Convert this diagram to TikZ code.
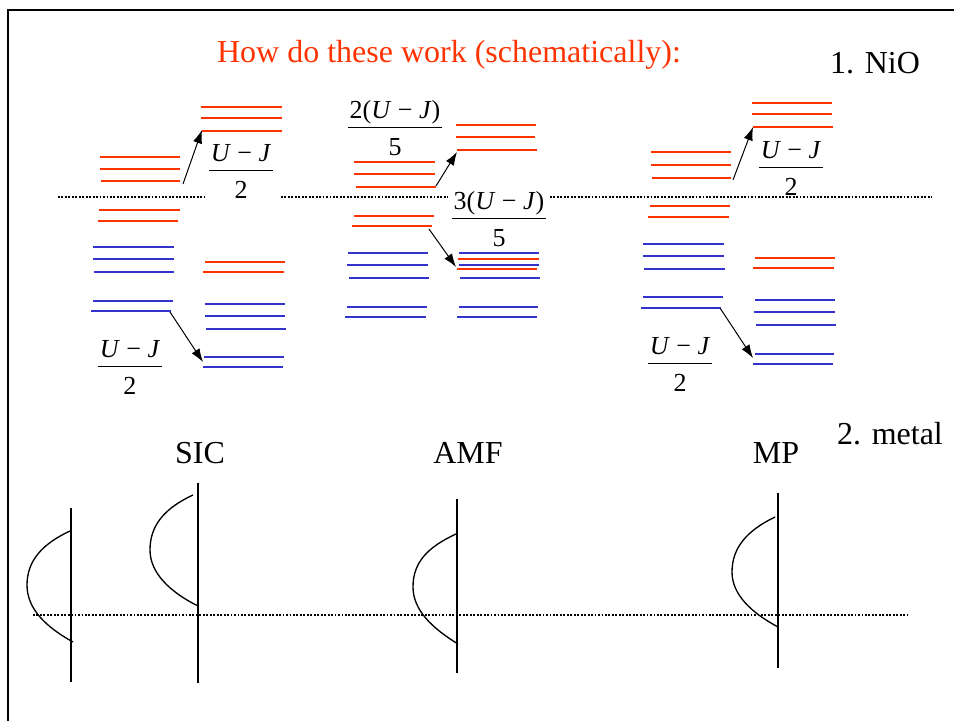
\documentclass[tikz,border=0pt]{standalone}
\usepackage{fontspec}
\setmainfont{Liberation Serif}
\usetikzlibrary{arrows.meta}
\definecolor{lvred}{RGB}{255,51,0}
\definecolor{lvblue}{RGB}{51,51,204}
\setlength{\arrayrulewidth}{0.7pt}
\newcommand{\ujfrac}[2]{\begin{tabular}{@{\hspace{1pt}}c@{\hspace{1pt}}}#1\\\hline\rule{0pt}{20pt}#2\end{tabular}}
\tikzset{
  redlv/.style={draw=lvred, line width=1.3pt},
  bluelv/.style={draw=lvblue, line width=1.3pt},
  fermi/.style={line width=1.5pt, dash pattern=on 1.4pt off 1.2pt},
  shift arrow/.style={-{Latex[length=10pt,width=7pt]}, line width=0.75pt},
  dos/.style={line width=1pt},
  bigtxt/.style={font=\fontsize{24}{28}\selectfont},
  fractxt/.style={font=\fontsize{19.5}{22}\selectfont, inner sep=0pt},
}
\begin{document}
\begin{tikzpicture}[x=0.75pt, y=-0.75pt]
\useasboundingbox (0,0) rectangle (954,721);
\draw[line width=1.9pt] (8,721) -- (8,10) -- (954,10);
% --- headings ---
\node[bigtxt, text=lvred, anchor=base] (title) at (449,62) {How do these work (schematically):};
\node[bigtxt, anchor=base] (nio) at (875,73) {1. NiO};
\node[bigtxt, anchor=base] (metal) at (890,444) {2. metal};
% --- Fermi level (NiO) ---
\draw[fermi] (58,197) -- (207,197);
\draw[fermi] (281,197) -- (448,197);
\draw[fermi] (550,197) -- (932,197);
% --- SIC levels ---
\draw[redlv] (100,157) -- (180,157);
\draw[redlv] (100,169) -- (180,169);
\draw[redlv] (101,181) -- (180,181);
\draw[redlv] (99,210) -- (180,210);
\draw[redlv] (98,221) -- (178,221);
\draw[bluelv] (93,247) -- (174,247);
\draw[bluelv] (93,259) -- (174,259);
\draw[bluelv] (94,272) -- (174,272);
\draw[bluelv] (93,301) -- (173,301);
\draw[bluelv] (91,311) -- (171,311);
\draw[redlv] (201,107) -- (282,107);
\draw[redlv] (201,118) -- (282,118);
\draw[redlv] (202,131) -- (282,131);
\draw[redlv] (205,262) -- (285,262);
\draw[redlv] (203,272) -- (284,272);
\draw[bluelv] (205,304) -- (285,304);
\draw[bluelv] (205,316) -- (285,316);
\draw[bluelv] (206,329) -- (286,329);
\draw[bluelv] (204,357) -- (284,357);
\draw[bluelv] (203,367) -- (283,367);
\coordinate (sicUpA) at (183,184);
\coordinate (sicUpB) at (202,130);
\coordinate (sicDnA) at (170,312);
\coordinate (sicDnB) at (203,362);
\draw[shift arrow] (sicUpA) -- (sicUpB);
\draw[shift arrow] (sicDnA) -- (sicDnB);
\node[fractxt] (sicUp) at (241,174) {\ujfrac{\textit{U} − \textit{J}}{2}};
\node[fractxt] (sicDn) at (130,370) {\ujfrac{\textit{U} − \textit{J}}{2}};
% --- AMF levels ---
\draw[redlv] (354,162) -- (435,162);
\draw[redlv] (354,174) -- (435,174);
\draw[redlv] (356,187) -- (436,187);
\draw[redlv] (354,216) -- (434,216);
\draw[redlv] (352,226) -- (432,226);
\draw[bluelv] (348,253) -- (428,253);
\draw[bluelv] (347,265) -- (428,265);
\draw[bluelv] (349,278) -- (429,278);
\draw[bluelv] (347,307) -- (427,307);
\draw[bluelv] (345,317) -- (426,317);
\draw[redlv] (456,125) -- (536,125);
\draw[redlv] (456,137) -- (535,137);
\draw[redlv] (457,150) -- (537,150);
\draw[bluelv] (459,253) -- (539,253);
\draw[redlv] (458,259) -- (539,259);
\draw[bluelv] (459,265) -- (539,265);
\draw[redlv] (457,269) -- (537,269);
\draw[bluelv] (460,278) -- (540,278);
\draw[bluelv] (459,307) -- (538,307);
\draw[bluelv] (457,317) -- (537,317);
\coordinate (amfUpA) at (436,186);
\coordinate (amfUpB) at (457,152);
\coordinate (amfDnA) at (429,229);
\coordinate (amfDnB) at (456,267);
\draw[shift arrow] (amfUpA) -- (amfUpB);
\draw[shift arrow] (amfDnA) -- (amfDnB);
\node[fractxt] (amfUp) at (395,131) {\ujfrac{2(\textit{U} − \textit{J}\/)}{5}};
\node[fractxt] (amfDn) at (499,222) {\ujfrac{3(\textit{U} − \textit{J}\/)}{5}};
% --- MP levels ---
\draw[redlv] (651,152) -- (731,152);
\draw[redlv] (651,165) -- (731,165);
\draw[redlv] (652,178) -- (731,178);
\draw[redlv] (650,206) -- (730,206);
\draw[redlv] (648,217) -- (729,217);
\draw[bluelv] (643,244) -- (724,244);
\draw[bluelv] (643,256) -- (724,256);
\draw[bluelv] (644,269) -- (725,269);
\draw[bluelv] (643,297) -- (723,297);
\draw[bluelv] (641,308) -- (721,308);
\draw[redlv] (752,103) -- (832,103);
\draw[redlv] (752,114) -- (832,114);
\draw[redlv] (753,127) -- (833,127);
\draw[redlv] (755,258) -- (835,258);
\draw[redlv] (753,268) -- (834,268);
\draw[bluelv] (755,300) -- (835,300);
\draw[bluelv] (754,312) -- (835,312);
\draw[bluelv] (756,325) -- (836,325);
\draw[bluelv] (755,354) -- (834,354);
\draw[bluelv] (753,364) -- (833,364);
\coordinate (mpUpA) at (733,180);
\coordinate (mpUpB) at (753,127);
\coordinate (mpDnA) at (720,308);
\coordinate (mpDnB) at (753,358);
\draw[shift arrow] (mpUpA) -- (mpUpB);
\draw[shift arrow] (mpDnA) -- (mpDnB);
\node[fractxt] (mpUp) at (791,171) {\ujfrac{\textit{U} − \textit{J}}{2}};
\node[fractxt] (mpDn) at (680,367) {\ujfrac{\textit{U} − \textit{J}}{2}};
% --- metal: density of states ---
\node[bigtxt, anchor=base] (sic) at (200,463) {SIC};
\node[bigtxt, anchor=base] (amf) at (468,463) {AMF};
\node[bigtxt, anchor=base] (mp) at (776,463) {MP};
\draw[fermi] (33,615) -- (907,615);
\draw[dos] (71,508) -- (71,682);
\draw[dos] (70,531) .. controls (42,544) and (27,561) .. (27,585) .. controls (27,609) and (46,627) .. (73,642);
\draw[dos] (198,483) -- (198,683);
\draw[dos] (193,495) .. controls (165,508) and (150,525) .. (150,550) .. controls (150,573) and (170,592) .. (198,606);
\draw[dos] (457,499) -- (457,673);
\draw[dos] (456,534) .. controls (428,547) and (413,562) .. (413,587) .. controls (413,610) and (432,628) .. (458,644);
\draw[dos] (778,493) -- (778,668);
\draw[dos] (775,517) .. controls (748,530) and (732,547) .. (732,572) .. controls (732,595) and (752,613) .. (778,627);
\end{tikzpicture}
\end{document}
